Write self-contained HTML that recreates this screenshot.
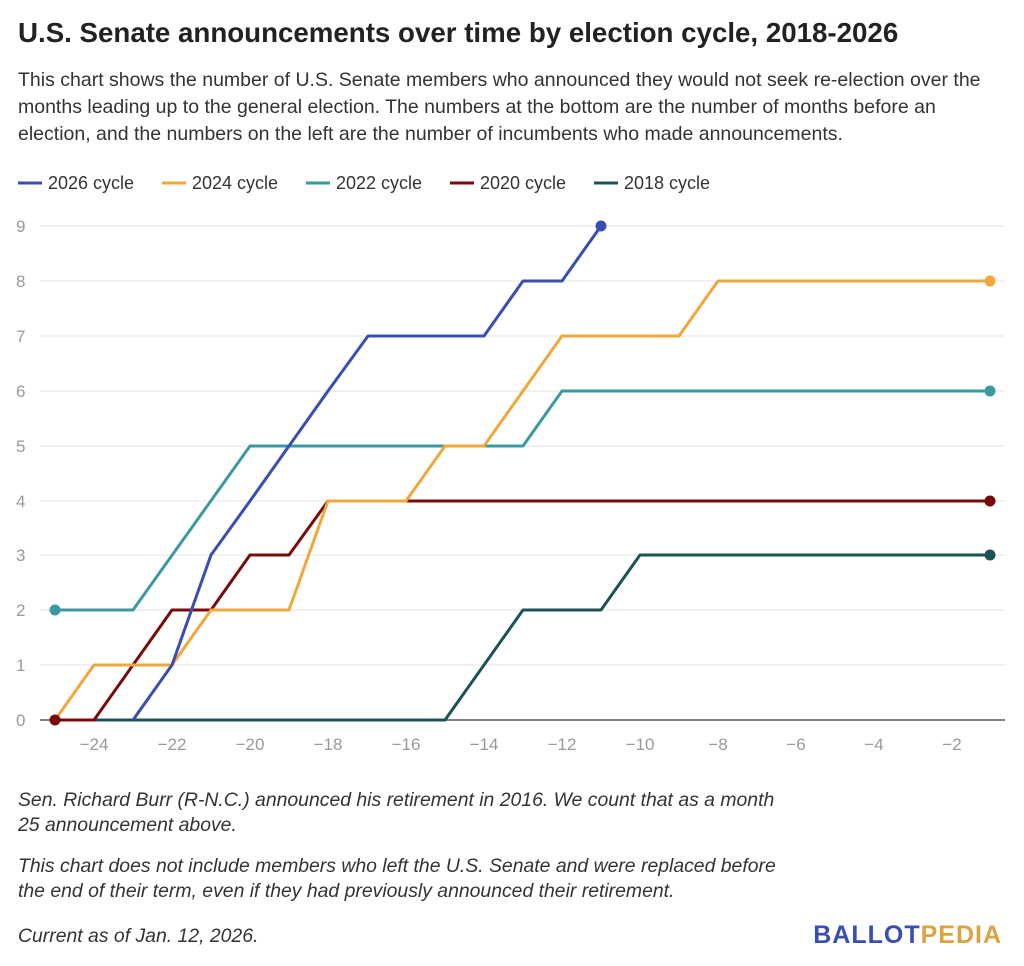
<!DOCTYPE html>
<html><head><meta charset="utf-8"><style>
body{margin:0;background:#fff;width:1024px;height:966px;overflow:hidden;font-family:"Liberation Sans",Arial,sans-serif;}
.t{position:absolute;left:18px;top:17px;font-size:27.7px;font-weight:bold;color:#222;white-space:nowrap;}
.d{position:absolute;left:18px;top:67px;width:1006px;font-size:19.5px;line-height:27px;color:#333;white-space:nowrap;}
.n{position:absolute;left:18px;font-size:19.4px;font-style:italic;color:#333;line-height:25px;white-space:nowrap;}
</style></head><body>
<div class="t">U.S. Senate announcements over time by election cycle, 2018-2026</div>
<div class="d">This chart shows the number of U.S. Senate members who announced they would not seek re-election over the<br>months leading up to the general election. The numbers at the bottom are the number of months before an<br>election, and the numbers on the left are the number of incumbents who made announcements.</div>
<svg width="1024" height="966" style="position:absolute;left:0;top:0" font-family="Liberation Sans,Arial,sans-serif">
<g font-size="18" fill="#333">
<line x1="18" y1="183" x2="42" y2="183" stroke="#3a4db0" stroke-width="3"/><text x="48" y="189">2026 cycle</text>
<line x1="162" y1="183" x2="186" y2="183" stroke="#f0a83a" stroke-width="3"/><text x="192" y="189">2024 cycle</text>
<line x1="306" y1="183" x2="330" y2="183" stroke="#3a9aa0" stroke-width="3"/><text x="336" y="189">2022 cycle</text>
<line x1="450" y1="183" x2="474" y2="183" stroke="#7a0a0a" stroke-width="3"/><text x="480" y="189">2020 cycle</text>
<line x1="594" y1="183" x2="618" y2="183" stroke="#1d5257" stroke-width="3"/><text x="624" y="189">2018 cycle</text>
</g>
<g stroke="#e3e3e3" stroke-width="1">
<line x1="40" x2="1005" y1="226" y2="226"/><line x1="40" x2="1005" y1="281" y2="281"/><line x1="40" x2="1005" y1="336" y2="336"/><line x1="40" x2="1005" y1="391" y2="391"/><line x1="40" x2="1005" y1="446" y2="446"/><line x1="40" x2="1005" y1="501" y2="501"/><line x1="40" x2="1005" y1="555" y2="555"/><line x1="40" x2="1005" y1="610" y2="610"/><line x1="40" x2="1005" y1="665" y2="665"/>
</g>
<line x1="40" x2="1005" y1="720" y2="720" stroke="#333" stroke-width="1.2"/>
<g font-size="17" fill="#999" text-anchor="start">
<text x="16" y="232">9</text><text x="16" y="287">8</text><text x="16" y="342">7</text><text x="16" y="397">6</text><text x="16" y="452">5</text><text x="16" y="507">4</text><text x="16" y="561">3</text><text x="16" y="616">2</text><text x="16" y="671">1</text><text x="16" y="726">0</text>
</g>
<g font-size="17" fill="#999" text-anchor="middle">
<text x="94" y="750">−24</text><text x="172" y="750">−22</text><text x="250" y="750">−20</text><text x="328" y="750">−18</text><text x="406" y="750">−16</text><text x="484" y="750">−14</text><text x="562" y="750">−12</text><text x="640" y="750">−10</text><text x="718" y="750">−8</text><text x="796" y="750">−6</text><text x="874" y="750">−4</text><text x="952" y="750">−2</text>
</g>
<g fill="none" stroke-width="3" stroke-linejoin="round">
<polyline stroke="#1d5257" points="55,720 445,720 523,610 601,610 640,555 990,555"/>
<polyline stroke="#7a0a0a" points="55,720 94,720 172,610 211,610 250,555 289,555 328,501 990,501"/>
<polyline stroke="#3a9aa0" points="55,610 133,610 250,446 523,446 562,391 990,391"/>
<polyline stroke="#f0a83a" points="55,720 94,665 172,665 211,610 289,610 328,501 406,501 445,446 484,446 562,336 679,336 718,281 990,281"/>
<polyline stroke="#3a4db0" points="133,720 172,665 211,555 250,501 289,446 328,391 368,336 484,336 523,281 562,281 601,226"/>
</g>
<circle cx="601" cy="226" r="5.5" fill="#3a4db0"/>
<circle cx="990" cy="281" r="5.5" fill="#f0a83a"/>
<circle cx="990" cy="391" r="5.5" fill="#3a9aa0"/><circle cx="55" cy="610" r="5.5" fill="#3a9aa0"/>
<circle cx="990" cy="501" r="5.5" fill="#7a0a0a"/><circle cx="55" cy="720" r="5.5" fill="#7a0a0a"/>
<circle cx="990" cy="555" r="5.5" fill="#1d5257"/>
<text x="1002" y="943" font-size="25" font-weight="bold" text-anchor="end" letter-spacing="1"><tspan fill="#3a4db0">BALLOT</tspan><tspan fill="#d9a441">PEDIA</tspan></text>
</svg>
<div class="n" style="top:788px">Sen. Richard Burr (R-N.C.) announced his retirement in 2016. We count that as a month<br>25 announcement above.</div>
<div class="n" style="top:854px">This chart does not include members who left the U.S. Senate and were replaced before<br>the end of their term, even if they had previously announced their retirement.</div>
<div class="n" style="top:924px">Current as of Jan. 12, 2026.</div>
</body></html>
